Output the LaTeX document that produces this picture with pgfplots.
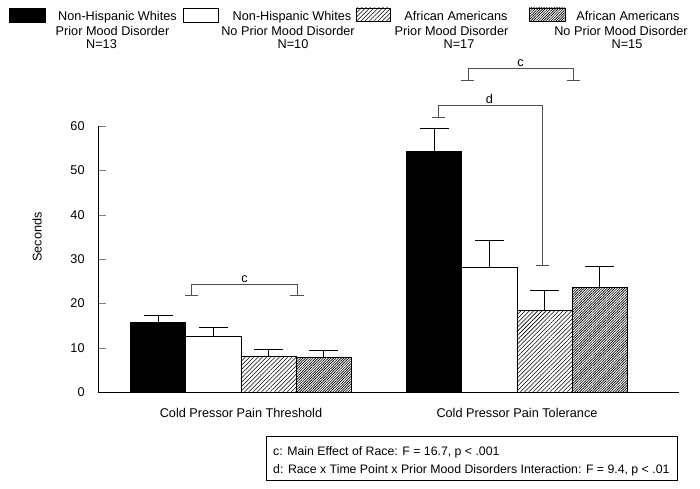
\documentclass[border=0pt]{standalone}
\usepackage{fontspec}
\setmainfont{Liberation Sans}
\usepackage{pgfplots}
\pgfplotsset{compat=1.18}
\usetikzlibrary{patterns.meta}

\definecolor{brk}{HTML}{505050}

\begin{document}
\fontsize{12.7}{15}\selectfont
\begin{tikzpicture}
\useasboundingbox (-98pt,-96pt) rectangle (602pt,392pt);
\begin{axis}[
    scale only axis, width=581pt, height=266pt,
    xmin=-0.518, xmax=1.587, ymin=0, ymax=60,
    axis x line*=bottom, axis y line*=left,
    ytick={0,10,...,60}, tick align=inside, major tick length=8pt,
    xtick={0,1},
    xticklabels={Cold Pressor Pain Threshold, Cold Pressor Pain Tolerance},
    x tick style={draw=none},
    yticklabel style={xshift=-9pt},
    xticklabel style={yshift=-4pt},
    /pgf/number format/assume math mode=true,
    ybar=0pt, bar width=0.2,
    clip=false,
    every axis plot/.append style={draw=black, line width=0.7pt},
    error bars/y dir=plus, error bars/y explicit,
    error bars/error mark=|,
    error bars/error bar style={black, line width=0.7pt},
    error bars/error mark options={black, mark size=14.5pt, line width=0.7pt},
  ]
  % Non-Hispanic Whites, prior mood disorder
  \addplot[fill=black] coordinates {(0,15.6) +- (0,1.8) (1,54.2) +- (0,5.3)};
  % Non-Hispanic Whites, no prior mood disorder
  \addplot[fill=white] coordinates {(0,12.5) +- (0,2.0) (1,28.2) +- (0,6.0)};
  % African Americans, prior mood disorder
  \addplot[pattern={Lines[angle=45,distance=3pt,line width=0.55pt]}]
    coordinates {(0,8.0) +- (0,1.6) (1,18.4) +- (0,4.6)};
  % African Americans, no prior mood disorder
  \addplot[pattern={Lines[angle=45,distance=1.8pt,line width=0.65pt]}]
    coordinates {(0,7.8) +- (0,1.7) (1,23.5) +- (0,4.9)};

  % significance brackets (feet are +-6.5px = +-0.0236 x units)
  \draw[brk, line width=0.7pt] (axis cs:-0.178,21.9) -- (axis cs:-0.178,24.36)
    -- (axis cs:0.203,24.36) -- (axis cs:0.203,21.9);
  \draw[brk, line width=0.7pt] (axis cs:-0.2016,21.9) -- (axis cs:-0.1544,21.9);
  \draw[brk, line width=0.7pt] (axis cs:0.1794,21.9) -- (axis cs:0.2266,21.9);
  \node[anchor=south, inner sep=1.5pt] at (axis cs:0.0127,24.36) {c};

  \draw[brk, line width=0.7pt] (axis cs:0.822,70.2) -- (axis cs:0.822,72.9)
    -- (axis cs:1.203,72.9) -- (axis cs:1.203,70.2);
  \draw[brk, line width=0.7pt] (axis cs:0.7984,70.2) -- (axis cs:0.8456,70.2);
  \draw[brk, line width=0.7pt] (axis cs:1.1794,70.2) -- (axis cs:1.2266,70.2);
  \node[anchor=south, inner sep=1.5pt] at (axis cs:1.0127,72.9) {c};

  \draw[brk, line width=0.7pt] (axis cs:0.714,61.9) -- (axis cs:0.714,64.6)
    -- (axis cs:1.091,64.6) -- (axis cs:1.091,28.6);
  \draw[brk, line width=0.7pt] (axis cs:0.6904,61.9) -- (axis cs:0.7376,61.9);
  \draw[brk, line width=0.7pt] (axis cs:1.0674,28.6) -- (axis cs:1.1146,28.6);
  \node[anchor=south, inner sep=1.5pt] at (axis cs:0.9,64.6) {d};
\end{axis}

% y label
\node[rotate=90] at (-61pt,155pt) {Seconds};

% legend
\fill[black] (-89pt,384pt) rectangle (-52pt,369pt);
\draw[line width=0.6pt] (85pt,384pt) rectangle (120pt,370pt);
\draw[line width=0.6pt, pattern={Lines[angle=45,distance=3pt,line width=0.55pt]}]
  (258pt,384pt) rectangle (292pt,371pt);
\draw[line width=0.6pt, pattern={Lines[angle=45,distance=1.8pt,line width=0.65pt]}]
  (431pt,384pt) rectangle (467pt,371pt);

\node[anchor=base, inner sep=0pt] at (19.5pt,371pt) {Non-Hispanic Whites};
\node[anchor=base, inner sep=0pt] at (14.5pt,356.5pt) {Prior Mood Disorder};
\node[anchor=base, inner sep=0pt] at (3.5pt,343.7pt) {N=13};

\node[anchor=base, inner sep=0pt] at (194pt,371pt) {Non-Hispanic Whites};
\node[anchor=base, inner sep=0pt] at (190pt,356.5pt) {No Prior Mood Disorder};
\node[anchor=base, inner sep=0pt] at (195pt,343.7pt) {N=10};

\node[anchor=base, inner sep=0pt] at (358pt,371pt) {African Americans};
\node[anchor=base, inner sep=0pt] at (353.5pt,356.5pt) {Prior Mood Disorder};
\node[anchor=base, inner sep=0pt] at (361pt,343.7pt) {N=17};

\node[anchor=base, inner sep=0pt] at (530pt,371pt) {African Americans};
\node[anchor=base, inner sep=0pt] at (523pt,356.5pt) {No Prior Mood Disorder};
\node[anchor=base, inner sep=0pt] at (529pt,343.7pt) {N=15};

% note box
\draw[line width=0.7pt] (168pt,-44.7pt) rectangle (579pt,-88.7pt);
\node[anchor=base west, inner sep=0pt, font=\fontsize{12.3}{14}\selectfont]
  at (175pt,-63pt) {c: Main Effect of Race: F = 16.7, p < .001};
\node[anchor=base west, inner sep=0pt, font=\fontsize{12.3}{14}\selectfont]
  at (175pt,-81pt) {d: Race x Time Point x Prior Mood Disorders Interaction: F = 9.4, p < .01};
\end{tikzpicture}
\end{document}
